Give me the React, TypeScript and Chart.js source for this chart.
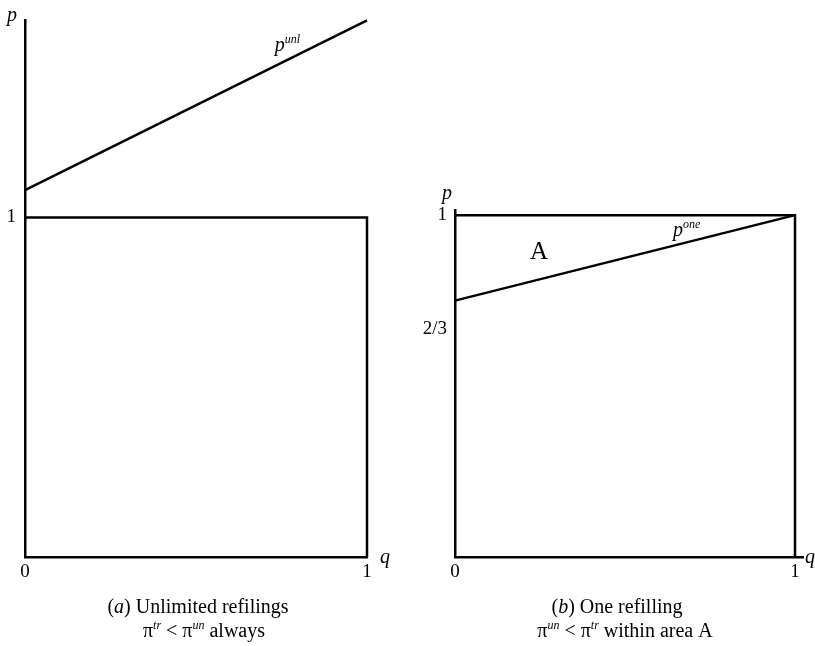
import React, { useEffect, useRef } from "react";
import { Chart, registerables } from "chart.js";

Chart.register(...registerables);

const FONT = '"Liberation Serif", "Times New Roman", serif';

// ---- data ----
const qEnds = [0, 1];
const unlimitedP = [1.08, 1.58]; // p^unl at q = 0 and q = 1
const oneP = [0.75, 1]; // p^one at q = 0 and q = 1
const boxQ = [0, 1, 1];
const boxP = [1, 1, 0];
const xTickValues = [0, 1];
const xTickLabels = ["0", "1"];
const leftYTickValues = [1];
const leftYTickLabels = ["1"];
const rightYTickValues = [2 / 3, 1];
const rightYTickLabels = ["2/3", "1"];

type Seg = { t: string; it?: boolean; sup?: boolean };

function drawRich(
  ctx: CanvasRenderingContext2D,
  segs: Seg[],
  x: number,
  y: number,
  size: number,
  align: "left" | "center" | "right"
) {
  const supSize = Math.round(size * 0.6);
  const fontOf = (s: Seg) => `${s.it ? "italic " : ""}${s.sup ? supSize : size}px ${FONT}`;
  let total = 0;
  const widths = segs.map((s) => {
    ctx.font = fontOf(s);
    const w = ctx.measureText(s.t).width;
    total += w;
    return w;
  });
  let cx = align === "center" ? x - total / 2 : align === "right" ? x - total : x;
  ctx.textAlign = "left";
  ctx.textBaseline = "alphabetic";
  ctx.fillStyle = "#000";
  segs.forEach((s, i) => {
    ctx.font = fontOf(s);
    ctx.fillText(s.t, cx, s.sup ? y - size * 0.42 : y);
    cx += widths[i];
  });
}

type Annot = { q: number; p: number; segs: Seg[]; size: number; align: "left" | "center" | "right"; middle?: boolean };
type Caption = { segs: Seg[]; dx: number; dy: number };

type PanelCfg = {
  left: number;
  width: number;
  height: number;
  padTop: number;
  padRight: number;
  yAxisWidth: number;
  xAxisHeight: number;
  xMax: number;
  yMax: number;
  lines: { q: number[]; p: number[] }[];
  yTickValues: number[];
  yTickLabels: string[];
  yTickPadding: number;
  annots: Annot[];
  pLabel: { dx: number; dy: number };
  qLabel: { dx: number; dy: number };
  captions: Caption[];
};

const lookup = (vals: number[], labels: string[], v: number) => {
  const i = vals.findIndex((x) => Math.abs(x - v) < 1e-6);
  return i >= 0 ? labels[i] : "";
};

function Panel({ cfg }: { cfg: PanelCfg }) {
  const ref = useRef<HTMLCanvasElement | null>(null);
  useEffect(() => {
    if (!ref.current) return;
    const textPlugin = {
      id: "richText",
      afterDraw(chart: any) {
        const ctx = chart.ctx as CanvasRenderingContext2D;
        const xs = chart.scales.x;
        const ys = chart.scales.y;
        const area = chart.chartArea;
        ctx.save();
        cfg.annots.forEach((a) => {
          const px = xs.getPixelForValue(a.q);
          const py = ys.getPixelForValue(a.p);
          if (a.middle) {
            ctx.font = `${a.size}px ${FONT}`;
            ctx.fillStyle = "#000";
            ctx.textAlign = "center";
            ctx.textBaseline = "middle";
            ctx.fillText(a.segs.map((s) => s.t).join(""), px, py);
          } else {
            drawRich(ctx, a.segs, px, py, a.size, a.align);
          }
        });
        // axis titles
        drawRich(ctx, [{ t: "p", it: true }], area.left + cfg.pLabel.dx, area.top + cfg.pLabel.dy, 20, "center");
        drawRich(
          ctx,
          [{ t: "q", it: true }],
          xs.getPixelForValue(1) + cfg.qLabel.dx,
          area.bottom + cfg.qLabel.dy,
          20,
          "center"
        );
        const mid = (xs.getPixelForValue(0) + xs.getPixelForValue(1)) / 2;
        cfg.captions.forEach((c) => {
          drawRich(ctx, c.segs, mid + c.dx, area.bottom + c.dy, 20, "center");
        });
        ctx.restore();
      },
    };

    const chart = new Chart(ref.current, {
      type: "line",
      data: {
        datasets: cfg.lines.map((l) => ({
          data: l.q.map((q, i) => ({ x: q, y: l.p[i] })),
          borderColor: "#000",
          borderWidth: 2.5,
          pointRadius: 0,
          fill: false,
          tension: 0,
          clip: false as any,
        })),
      },
      options: {
        responsive: false,
        animation: false,
        devicePixelRatio: 1,
        layout: { padding: { top: cfg.padTop, right: cfg.padRight, left: 0, bottom: 0 } },
        plugins: { legend: { display: false }, tooltip: { enabled: false }, title: { display: false } },
        scales: {
          x: {
            type: "linear",
            min: 0,
            max: cfg.xMax,
            grid: { display: false, drawTicks: false },
            border: { display: true, color: "#000", width: 2.5 },
            ticks: {
              color: "#000",
              font: { family: FONT, size: 19 },
              padding: 4,
              autoSkip: false,
              maxRotation: 0,
              callback: (v: any) => lookup(xTickValues, xTickLabels, Number(v)),
            },
            afterBuildTicks: (s: any) => {
              s.ticks = xTickValues.map((v) => ({ value: v }));
            },
            afterFit: (s: any) => {
              s.height = cfg.xAxisHeight;
            },
          },
          y: {
            type: "linear",
            min: 0,
            max: cfg.yMax,
            grid: { display: false, drawTicks: false },
            border: { display: true, color: "#000", width: 2.5 },
            ticks: {
              color: "#000",
              font: { family: FONT, size: 19 },
              padding: cfg.yTickPadding,
              autoSkip: false,
              callback: (v: any) => lookup(cfg.yTickValues, cfg.yTickLabels, Number(v)),
            },
            afterBuildTicks: (s: any) => {
              s.ticks = cfg.yTickValues.map((v) => ({ value: v }));
            },
            afterFit: (s: any) => {
              s.width = cfg.yAxisWidth;
            },
          },
        },
      } as any,
      plugins: [textPlugin],
    });
    return () => chart.destroy();
  }, [cfg]);
  return (
    <canvas
      ref={ref}
      width={cfg.width}
      height={cfg.height}
      style={{ position: "absolute", left: cfg.left, top: 0, width: cfg.width, height: cfg.height, display: "block" }}
    />
  );
}

const leftCfg: PanelCfg = {
  left: 0,
  width: 410,
  height: 646,
  padTop: 17,
  padRight: 43,
  yAxisWidth: 25,
  xAxisHeight: 89,
  xMax: 1,
  yMax: 1.58,
  lines: [
    { q: qEnds, p: unlimitedP },
    { q: boxQ, p: boxP },
  ],
  yTickValues: leftYTickValues,
  yTickLabels: leftYTickLabels,
  yTickPadding: 9,
  annots: [
    { q: 0.73, p: 1.49, segs: [{ t: "p", it: true }, { t: "unl", it: true, sup: true }], size: 20, align: "left" },
  ],
  pLabel: { dx: -13, dy: 1 },
  qLabel: { dx: 18, dy: 6 },
  captions: [
    { segs: [{ t: "(" }, { t: "a", it: true }, { t: ") Unlimited refilings" }], dx: 2, dy: 56 },
    {
      segs: [{ t: "π" }, { t: "tr", it: true, sup: true }, { t: " < π" }, { t: "un", it: true, sup: true }, { t: " always" }],
      dx: 8,
      dy: 80,
    },
  ],
};

const rightCfg: PanelCfg = {
  left: 410,
  width: 405,
  height: 646,
  padTop: 210,
  padRight: 11.5,
  yAxisWidth: 45,
  xAxisHeight: 89,
  xMax: 1.025,
  yMax: 1.015,
  lines: [
    { q: boxQ, p: boxP },
    { q: qEnds, p: oneP },
  ],
  yTickValues: rightYTickValues,
  yTickLabels: rightYTickLabels,
  yTickPadding: 8,
  annots: [
    { q: 0.641, p: 0.939, segs: [{ t: "p", it: true }, { t: "one", it: true, sup: true }], size: 20, align: "left" },
    { q: 0.247, p: 0.892, segs: [{ t: "A" }], size: 25, align: "center", middle: true },
  ],
  pLabel: { dx: -8, dy: -11 },
  qLabel: { dx: 15, dy: 6 },
  captions: [
    { segs: [{ t: "(" }, { t: "b", it: true }, { t: ") One refilling" }], dx: -8, dy: 56 },
    {
      segs: [{ t: "π" }, { t: "un", it: true, sup: true }, { t: " < π" }, { t: "tr", it: true, sup: true }, { t: " within area A" }],
      dx: 0,
      dy: 80,
    },
  ],
};

export default function App() {
  return (
    <div style={{ position: "absolute", left: 0, top: 0, width: 815, height: 646, background: "#fff" }}>
      <Panel cfg={leftCfg} />
      <Panel cfg={rightCfg} />
    </div>
  );
}
